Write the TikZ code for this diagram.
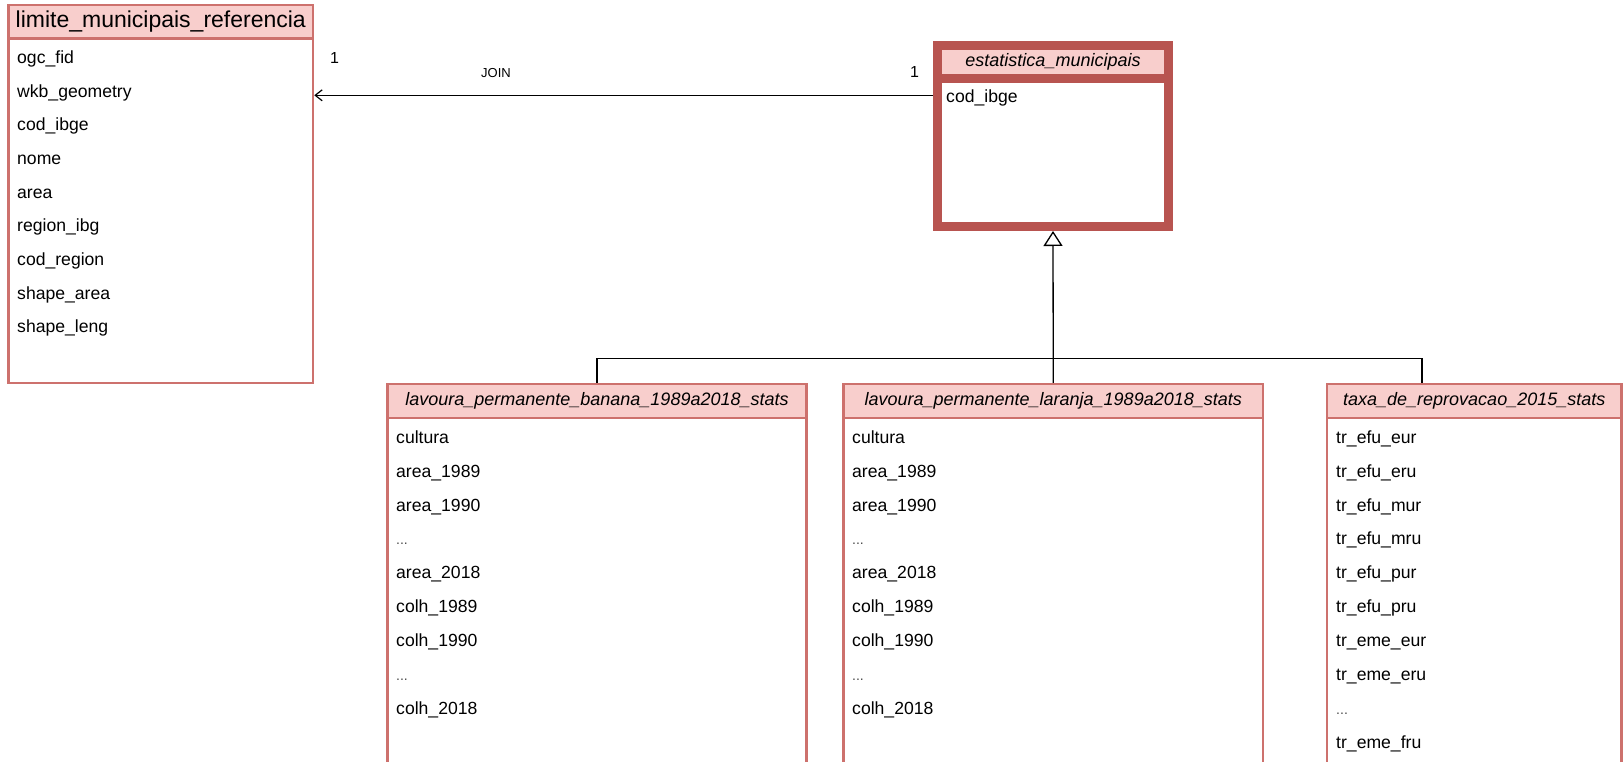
\documentclass[tikz,border=0pt]{standalone}
\usepackage{fontspec}
\setmainfont{Liberation Sans}
\usetikzlibrary{arrows.meta,calc}
\definecolor{hdrfill}{HTML}{F8CECC}
\definecolor{redline}{HTML}{B85450}
\definecolor{lightred}{HTML}{CD716D}
\newcommand\mydots{{\fontsize{14}{16}\selectfont\color{black!70}...}}
\begin{document}
\begin{tikzpicture}[x=1pt,y=-1pt,
  thinbox/.style={draw=lightred, line width=2.5pt, inner sep=0pt, anchor=north west},
  thickbox/.style={draw=redline, line width=9pt, inner sep=0pt, anchor=north west},
  hdrtxt/.style={fill=hdrfill, font=\fontsize{18}{21}\selectfont\itshape},
  bodyfill/.style={fill=white},
  row/.style={anchor=base west, inner sep=0pt, font=\fontsize{17.6}{21}\selectfont},
  wire/.style={draw=black, line width=1.3pt},
  joinline/.style={wire, -{Straight Barb[length=7pt,width=11pt,line width=1.2pt]}},
  genline/.style={wire, -{Triangle[open,length=15pt,width=19pt,line width=1.3pt]}},
  mult/.style={inner sep=0pt, font=\fontsize{16}{18}\selectfont},
  lbl/.style={inner sep=0pt, font=\fontsize{13}{15}\selectfont}
]
\useasboundingbox (0,0) rectangle (1624,762);
\clip (0,0) rectangle (1624,762);

% ---- limite_municipais_referencia
\node[thinbox, bodyfill, minimum width=304.5pt, minimum height=345pt] (limbody) at (7.25,36.75) {};
\node[thinbox, fill=hdrfill, font=\fontsize{23}{26}\selectfont, minimum width=304.5pt, minimum height=33.5pt] (limhead) at (7.25,3.75) {limite\_municipais\_referencia};
\foreach \t [count=\i] in {ogc\_fid, wkb\_geometry, cod\_ibge, nome, area, region\_ibg, cod\_region, shape\_area, shape\_leng}
  \node[row] (limrow\i) at (17, 63.8+33.6*\i-33.6) {\t};

% ---- estatistica_municipais
\node[thickbox, bodyfill, minimum width=231pt, minimum height=148pt] (estbody) at (933,74) {};
\node[thickbox, hdrtxt, minimum width=231pt, minimum height=33pt] (esthead) at (933,41) {estatistica\_municipais};
\node[row] (estrow1) at (946,103) {cod\_ibge};

% ---- lavoura banana
\node[thinbox, bodyfill, minimum width=419pt, minimum height=400pt] (banbody) at (386.25,416.75) {};
\node[thinbox, hdrtxt, minimum width=419pt, minimum height=34pt] (banhead) at (386.25,382.75) {lavoura\_permanente\_banana\_1989a2018\_stats};
\foreach \t [count=\i] in {cultura, area\_1989, area\_1990, \mydots, area\_2018, colh\_1989, colh\_1990, \mydots, colh\_2018}
  \node[row] (banrow\i) at (396, 443.2+33.9*\i-33.9) {\t};

% ---- lavoura laranja
\node[thinbox, bodyfill, minimum width=419.5pt, minimum height=400pt] (larbody) at (842.25,416.75) {};
\node[thinbox, hdrtxt, minimum width=419.5pt, minimum height=34pt] (larhead) at (842.25,382.75) {lavoura\_permanente\_laranja\_1989a2018\_stats};
\foreach \t [count=\i] in {cultura, area\_1989, area\_1990, \mydots, area\_2018, colh\_1989, colh\_1990, \mydots, colh\_2018}
  \node[row] (larrow\i) at (852, 443.2+33.9*\i-33.9) {\t};

% ---- taxa de reprovacao
\node[thinbox, bodyfill, minimum width=294.5pt, minimum height=400pt] (taxbody) at (1325.75,416.75) {};
\node[thinbox, hdrtxt, minimum width=294.5pt, minimum height=34pt] (taxhead) at (1325.75,382.75) {taxa\_de\_reprovacao\_2015\_stats};
\foreach \t [count=\i] in {tr\_efu\_eur, tr\_efu\_eru, tr\_efu\_mur, tr\_efu\_mru, tr\_efu\_pur, tr\_efu\_pru, tr\_eme\_eur, tr\_eme\_eru, \mydots, tr\_eme\_fru}
  \node[row] (taxrow\i) at (1336, 443.2+33.9*\i-33.9) {\t};

% ---- connectors
\coordinate (jy) at (0,95.3);
\draw[joinline] (estbody.west |- jy) -- (limbody.east |- jy);
\node[mult] (m1) at (334.5,58) {1};
\node[lbl] (joinlbl) at (496,73.5) {JOIN};
\node[mult] (m2) at (914.5,71.5) {1};

\coordinate (bus) at ($(larhead.north)+(0,-24.5)$);
\coordinate (taxin) at ($(taxhead.north west)+(96.25,0)$);
\draw[wire] (banhead.north) |- (bus) -| (taxin);
\draw[genline] (larhead.north) -- (estbody.south);
\end{tikzpicture}
\end{document}
